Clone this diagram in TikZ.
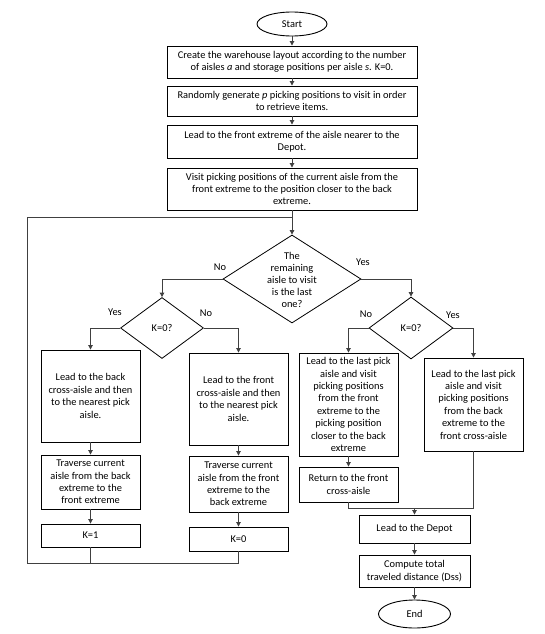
\documentclass[tikz,border=0pt]{standalone}
\usepackage{fontspec}
\setmainfont{Carlito}
\usetikzlibrary{shapes.geometric,arrows.meta,shadows}
\definecolor{linegray}{HTML}{404040}
\definecolor{shadowgray}{HTML}{8C8C8C}
\begin{document}
\begin{tikzpicture}[x=1pt,y=-1pt,
  txt/.style={font=\fontsize{10.4}{12.4}\selectfont, align=center},
  box/.style={txt, draw=black, line width=0.9pt, fill=white, inner sep=1pt,
    drop shadow={shadow xshift=1.3pt, shadow yshift=-1.3pt, fill=shadowgray, opacity=1}},
  wh/.style 2 args={minimum width=#1pt, minimum height=#2pt},
  term/.style={txt, ellipse, draw=black, line width=0.9pt, fill=white, inner sep=0pt},
  dia/.style={diamond, draw=black, line width=0.8pt, fill=white, inner sep=0pt},
  conn/.style={draw=linegray, line width=0.9pt},
  arr/.style={conn, -{Triangle[width=4.5pt,length=4.5pt]}},
  lbl/.style={font=\fontsize{10.4}{11}\selectfont, inner sep=0pt}
]
\useasboundingbox (0,0) rectangle (544,634);

% main column
\node[term, wh={70}{24}] (start) at (292,24) {Start};
\node[box, wh={250}{32}] (b1) at (292,62) {Create the warehouse layout according to the number\\ of aisles \textit{a} and storage positions per aisle \textit{s}. K=0.};
\node[box, wh={250}{30}] (b2) at (292,101) {Randomly generate \textit{p} picking positions to visit in order\\ to retrieve items.};
\node[box, wh={250}{33}] (b3) at (292,141.5) {Lead to the front extreme of the aisle nearer to the\\ Depot.};
\node[box, wh={250}{42}] (b4) at (292,189) {Visit picking positions of the current aisle from the\\ front extreme to the position closer to the back\\ extreme.};

% decisions
\node[dia, minimum width=138pt, minimum height=88pt] (d1) at (292,279) {};
\node[txt, font=\fontsize{10.4}{12}\selectfont] (d1t) at (292,280) {The\\ remaining\\ aisle to visit\\ is the last\\ one?};
\node[dia, minimum width=83pt, minimum height=61pt] (dL) at (162,328) {};
\node[txt] (dLt) at (162,328) {K=0?};
\node[dia, minimum width=84pt, minimum height=62pt] (dR) at (411,328) {};
\node[txt] (dRt) at (411,328) {K=0?};

% left branch boxes
\node[box, wh={99}{92}] (LB1) at (90.5,396) {Lead to the back\\ cross-aisle and then\\ to the nearest pick\\ aisle.};
\node[box, wh={99}{54}] (LB2) at (90.5,482) {Traverse current\\ aisle from the back\\ extreme to the\\ front extreme};
\node[box, wh={99}{23}] (LB3) at (90.5,535.5) {K=1};
\node[box, wh={99}{92}] (RB1) at (238.5,399) {Lead to the front\\ cross-aisle and then\\ to the nearest pick\\ aisle.};
\node[box, wh={99}{56}] (RB2) at (238.5,484) {Traverse current\\ aisle from the front\\ extreme to the\\ back extreme};
\node[box, wh={99}{24}] (RB3) at (238.5,539) {K=0};

% right branch boxes
\node[box, wh={99}{103}] (RL1) at (348.5,404.5) {Lead to the last pick\\ aisle and visit\\ picking positions\\ from the front\\ extreme to the\\ picking position\\ closer to the back\\ extreme};
\node[box, wh={99}{35}] (RL2) at (348.5,484.5) {Return to the front\\ cross-aisle};
\node[box, wh={99}{93}] (RR) at (473.5,404.5) {Lead to the last pick\\ aisle and visit\\ picking positions\\ from the back\\ extreme to the\\ front cross-aisle};
\node[box, wh={111}{28}] (depot) at (414.5,529) {Lead to the Depot};
\node[box, wh={111}{32}] (comp) at (414.5,571) {Compute total\\ traveled distance (Dss)};
\node[term, wh={72}{28}] (end) at (414.5,614) {End};

% main flow
\draw[arr] (start) -- (b1);
\draw[arr] (b1) -- (b2);
\draw[arr] (b2) -- (b3);
\draw[arr] (b3) -- (b4);
\draw[arr] (b4) -- (d1);

% first decision
\draw[arr] (d1.west) -| (dL.north);
\draw[arr] (d1.east) -| (dR.north);
\node[lbl] (no1) at (220,267) {No};
\node[lbl] (yes1) at (363,262) {Yes};

% left K decision
\draw[arr] (dL.west) -| (LB1.north);
\draw[arr] (dL.east) -| (RB1.north);
\node[lbl] (yes2) at (115,312) {Yes};
\node[lbl] (no2) at (206,313) {No};
\draw[arr] (LB1) -- (LB2);
\draw[arr] (LB2) -- (LB3);
\draw[arr] (RB1) -- (RB2);
\draw[arr] (RB2) -- (RB3);

% loop back
\coordinate (lb) at (27,563);
\coordinate (lt) at (27,217);
\draw[conn] (RB3.south) |- (lb) -- (lt) -- (lt -| b4.south);
\draw[conn] (LB3.south) -- (LB3.south |- lb);

% right K decision
\draw[arr] (dR.west) -| (RL1.north);
\draw[arr] (dR.east) -| (RR.north);
\node[lbl] (no3) at (366,314) {No};
\node[lbl] (yes3) at (453,315) {Yes};
\draw[arr] (RL1) -- (RL2);

% merge
\coordinate (mg) at (414.5,508);
\draw[conn] (RL2.south) |- (mg);
\draw[conn] (RR.south) |- (mg);
\draw[arr] (mg) -- (depot.north);
\draw[arr] (depot) -- (comp);
\draw[arr] (comp) -- (end);
\end{tikzpicture}
\end{document}
